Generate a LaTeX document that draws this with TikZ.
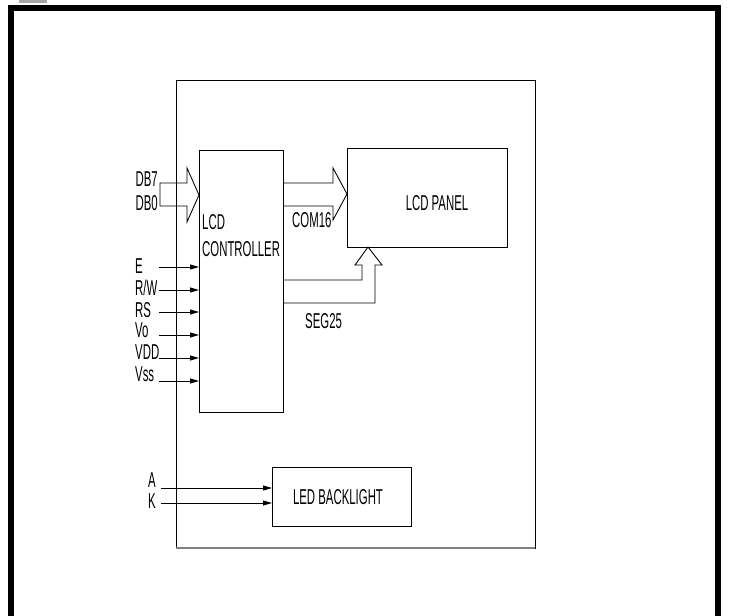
\documentclass[tikz,border=0pt]{standalone}
\usepackage{fontspec}
\newfontfamily\cadfont[FakeStretch=0.53]{Liberation Sans}
\usetikzlibrary{arrows.meta}
\begin{document}
\begin{tikzpicture}[x=1pt,y=-1pt,
  box/.style={draw=black, line width=0.9pt, inner sep=0pt, outer sep=0pt},
  lbl/.style={inner sep=0pt, font=\cadfont\fontsize{21.5}{21.5}\selectfont},
  inarrow/.style={line width=0.9pt, -{Triangle[length=9pt,width=5pt]}},
  wire/.style={line width=0.9pt},
  busarrow/.style={draw, line width=0.9pt, line join=miter},
  frameline/.style={line width=6pt, line join=miter}
]
\useasboundingbox (0,0) rectangle (729,616);
% outer frame
\draw[frameline] (11,616) -- (11,8) -- (718,8) -- (718,616);
\fill[gray!70] (19,0) rectangle (47,2.5);
% module outline
\node[box, minimum width=359pt, minimum height=468pt] (module) at (355.5,314) {};
\draw[gray, line width=2pt] (module.south west) -- (module.south east);
% blocks
\node[box, minimum width=84pt, minimum height=262pt] (ctrl) at (241,281) {};
\node[box, minimum width=160pt, minimum height=99pt] (panel) at (427,197.5) {};
\node[box, minimum width=139pt, minimum height=59pt] (led) at (341.5,496.5) {};
% block texts
\node[lbl, anchor=west] (tlcd) at (202,222) {LCD};
\node[lbl, anchor=west] (tctrl) at (202,249) {CONTROLLER};
\node[lbl] (tpanel) at (437,203) {LCD PANEL};
\node[lbl] (tled) at (338,497) {LED BACKLIGHT};
% data bus DB7..DB0
\draw[busarrow] (160,183) -- (187,183) -- (187,168) -- (ctrl.west |- 0,195)
  -- (187,222) -- (187,206) -- (160,206) -- cycle;
\node[lbl, anchor=east] (ldb7) at (158,179) {DB7};
\node[lbl, anchor=east] (ldb0) at (158,203) {DB0};
% COM16 bus
\draw[busarrow] (ctrl.east |- 0,183) -- (333,183) -- (333,168) -- (panel.west |- 0,194)
  -- (333,220) -- (333,206) -- (ctrl.east |- 0,206);
\node[lbl, anchor=west] (lcom) at (292,220) {COM16};
% SEG25 bus
\draw[busarrow] (ctrl.east |- 0,280) -- (362,280) -- (362,265) -- (355,265) -- (panel.south -| 368,0)
  -- (382,265) -- (375,265) -- (375,303) -- (ctrl.east |- 0,303);
\node[lbl, anchor=west] (lseg) at (305,321) {SEG25};
% control inputs
\foreach \nm/\txt/\ly/\wy in {e/E/266/267, rw/R\slash W/288/290, rs/RS/310/312, vo/Vo/330/335, vdd/VDD/352/358, vss/Vss/374/381}{
  \node[lbl, anchor=west] (l\nm) at (135,\ly) {\txt};
  \coordinate (p\nm) at (159,\wy);
  \draw[inarrow] (p\nm) -- (p\nm -| ctrl.west);
}
% backlight inputs
\node[lbl, anchor=west] (la) at (148,480) {A};
\node[lbl, anchor=west] (lk) at (148,501) {K};
\coordinate (pa) at (161,488);
\coordinate (pk) at (161,503);
\draw[inarrow] (pa) -- (pa -| led.west);
\draw[inarrow] (pk) -- (pk -| led.west);
\end{tikzpicture}
\end{document}
